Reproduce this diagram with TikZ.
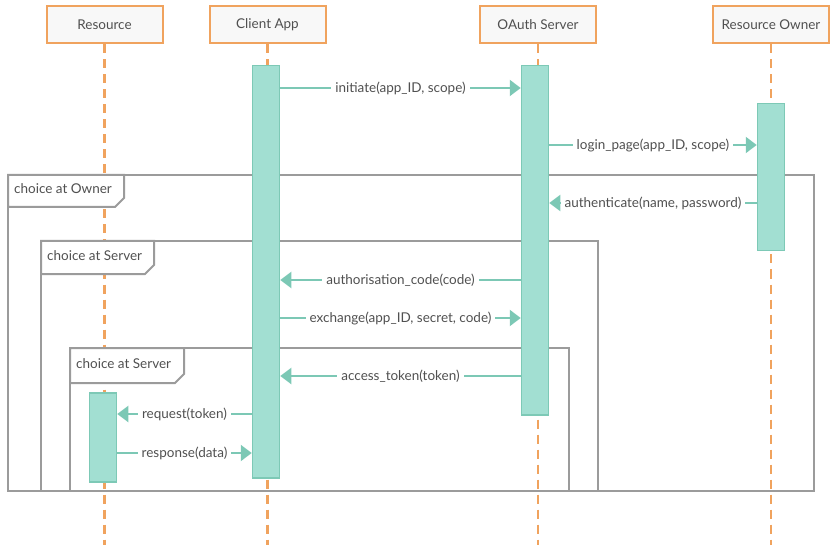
\documentclass[tikz,border=0pt]{standalone}
\usepackage{fontspec}
\setmainfont{Lato}
\usetikzlibrary{positioning,arrows.meta}
\definecolor{lifeorange}{HTML}{F0A35E}
\definecolor{barfill}{HTML}{A2DFD2}
\definecolor{bardraw}{HTML}{7DC9B6}
\definecolor{msgteal}{HTML}{7CC8B5}
\definecolor{framegray}{HTML}{9B9B9B}
\definecolor{txtgray}{HTML}{505050}
\definecolor{headfill}{HTML}{F8F8F8}

\begin{document}
\begin{tikzpicture}[
    x=1pt, y=-1pt,
    font=\fontsize{13.5}{15}\selectfont,
    head/.style={draw=lifeorange, fill=headfill, line width=2pt, minimum width=116pt,
                 minimum height=37pt, inner sep=0pt, text=txtgray},
    life/.style={draw=lifeorange, line width=2.5pt, dash pattern=on 9pt off 6pt},
    actbar/.style={draw=bardraw, fill=barfill, line width=1.5pt, minimum width=27pt,
                   inner sep=0pt, anchor=north},
    msg/.style={draw=msgteal, line width=2pt, -{Triangle[length=11pt,width=16pt]}},
    lbl/.style={fill=white, inner sep=4pt, text=txtgray},
    frm/.style={draw=framegray, line width=2pt},
    frmtxt/.style={anchor=west, inner sep=0pt, text=txtgray}
  ]
  \useasboundingbox (0,0) rectangle (832,545);

  % lifeline heads
  \node[head] (res)    at (104.5,25) {Resource};
  \node[head] (client) at (267.5,25) {Client App};
  \node[head] (oauth)  at (538,25)   {OAuth Server};
  \node[head] (owner)  at (771,25)   {Resource Owner};

  \foreach \n in {res,client,oauth,owner}
    \draw[life] (\n.south) -- (\n.south |- 0,545);

  % choice frames
  \draw[frm] (8,175) rectangle (814,491);
  \draw[frm, fill=white] (8,175) -- (124,175) -- (124,198) -- (115,207) -- (8,207) -- cycle;
  \node[frmtxt] (chowner) at (14,189) {choice at Owner};

  \draw[frm] (41,241) rectangle (598,491);
  \draw[frm, fill=white] (41,241) -- (154,241) -- (154,265) -- (145,274) -- (41,274) -- cycle;
  \node[frmtxt] (chserver) at (47,256) {choice at Server};

  \draw[frm] (70,348) rectangle (569,491);
  \draw[frm, fill=white] (70,348) -- (184,348) -- (184,374) -- (175,383) -- (70,383) -- cycle;
  \node[frmtxt] (chserverb) at (76,364) {choice at Server};

  % activation bars
  \node[actbar, minimum height=412pt] (clientbar) at (266,65)  {};
  \node[actbar, minimum height=349pt] (oauthbar)  at (535,65)  {};
  \node[actbar, minimum height=147pt] (ownerbar)  at (771,103) {};
  \node[actbar, minimum height=89pt]  (resbar)    at (103,392) {};

  % messages
  \draw[msg] (clientbar.east |- 0,88)  -- node[lbl]{initiate(app\_ID, scope)} (oauthbar.west |- 0,88);
  \draw[msg] (oauthbar.east |- 0,145)  -- node[lbl]{login\_page(app\_ID, scope)} (ownerbar.west |- 0,145);
  \draw[msg] (ownerbar.west |- 0,203)  -- node[lbl]{authenticate(name, password)} (oauthbar.east |- 0,203);
  \draw[msg] (oauthbar.west |- 0,280)  -- node[lbl]{authorisation\_code(code)} (clientbar.east |- 0,280);
  \draw[msg] (clientbar.east |- 0,318) -- node[lbl]{exchange(app\_ID, secret, code)} (oauthbar.west |- 0,318);
  \draw[msg] (oauthbar.west |- 0,376)  -- node[lbl]{access\_token(token)} (clientbar.east |- 0,376);
  \draw[msg] (clientbar.west |- 0,414) -- node[lbl]{request(token)} (resbar.east |- 0,414);
  \draw[msg] (resbar.east |- 0,453)    -- node[lbl]{response(data)} (clientbar.west |- 0,453);
\end{tikzpicture}
\end{document}
